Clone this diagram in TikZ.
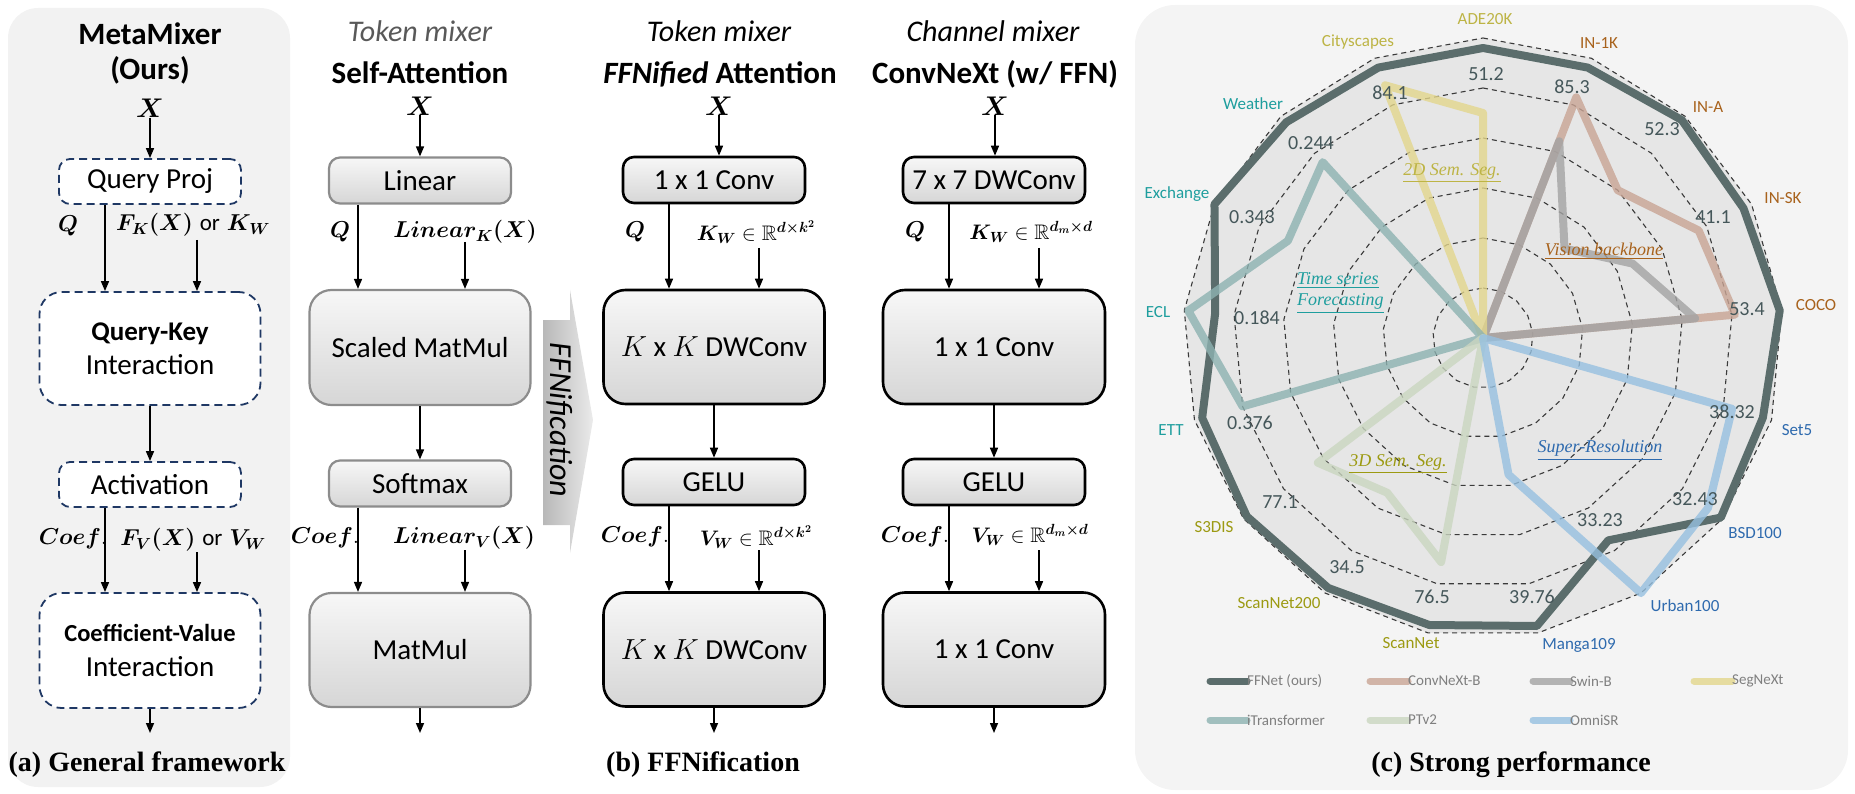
\RequirePackage{fix-cm}
\documentclass[tikz,border=0pt]{standalone}
\usepackage{fontspec}
\usepackage{amsmath,amssymb,bm}
\newfontfamily\carl{Carlito}
\newfontfamily\tms{Liberation Serif}
\usetikzlibrary{arrows.meta}
\newcommand\fsz[1]{\fontsize{#1}{#1}\selectfont}
\definecolor{navy}{HTML}{1F3864}
\definecolor{sagray}{HTML}{8C8C8C}
\definecolor{btop}{HTML}{F7F7F7}
\definecolor{bbot}{HTML}{D6D6D6}
\definecolor{bgA}{HTML}{F2F2F2}
\definecolor{bgC}{HTML}{F4F4F4}
\definecolor{radfill}{HTML}{E6E6E6}
\definecolor{ffnet}{HTML}{5B6D6C}
\definecolor{cnx}{HTML}{C9A494}
\definecolor{swin}{HTML}{A3A3A3}
\definecolor{segn}{HTML}{E3D68C}
\definecolor{itr}{HTML}{8DB2B1}
\definecolor{ptv}{HTML}{CAD6C0}
\definecolor{omni}{HTML}{96C0E0}
\definecolor{tsc}{HTML}{1E9E9E}
\definecolor{src}{HTML}{2E6AAE}
\definecolor{vbc}{HTML}{A8621C}
\definecolor{dtc}{HTML}{9C9A12}
\definecolor{dsc}{HTML}{BDB445}
\definecolor{valc}{HTML}{45575A}
\definecolor{legc}{HTML}{7F7F7F}
\definecolor{gridc}{HTML}{3A3A3A}
\begin{document}
\begin{tikzpicture}[x=1pt,y=-1pt,
  arr/.style={-{Triangle[length=10pt,width=8pt]}, line width=1.5pt},
  sm/.style={minimum width=182pt, minimum height=46pt, rounded corners=11pt},
  bg/.style={minimum width=221pt, minimum height=114pt, rounded corners=22pt},
  txt/.style={font=\carl\fsz{29}},
  dbox/.style={draw=navy, line width=1.8pt, dash pattern=on 8pt off 5pt, fill=white, inner sep=0pt, txt, align=center},
  sbox/.style={draw=sagray, line width=2.2pt, top color=btop, bottom color=bbot, inner sep=0pt, txt},
  kbox/.style={draw=black, line width=2.6pt, top color=btop, bottom color=bbot, inner sep=0pt, txt},
  ttl/.style={font=\carl\bfseries\fsz{31}, inner sep=0pt, anchor=base},
  sttl/.style={font=\carl\itshape\fsz{30}, inner sep=0pt, anchor=base},
  xin/.style={font=\fsz{27}, inner sep=0pt},
  lab/.style={font=\fsz{23}, inner sep=0pt},
  slab/.style={font=\fsz{21}, inner sep=0pt},
  captxt/.style={font=\tms\bfseries\fsz{28}, inner sep=0pt, anchor=base},
  gridl/.style={draw=gridc, line width=1.1pt, dash pattern=on 5pt off 4pt},
  ser/.style={line width=8pt, line join=round},
  tser/.style={ser, opacity=0.8},
  axl/.style={font=\carl\fsz{17}, inner sep=0pt},
  vlab/.style={font=\carl\fsz{20}, text=valc, inner sep=0pt},
  catl/.style={font=\tms\itshape\fsz{18}, inner sep=0pt},
  legl/.style={line width=7pt, line cap=round},
  legt/.style={font=\carl\fsz{15}, text=legc, inner sep=0pt, anchor=west}
]
\useasboundingbox (0,0) rectangle (1855,794);
% panel backgrounds
\fill[bgA, rounded corners=30pt] (8,8) rectangle (290,787);
\fill[bgC, rounded corners=40pt] (1135,5) rectangle (1848,790);

% ================= (a) General framework
\node[ttl] (ta1) at (150,45) {MetaMixer};
\node[ttl] (ta2) at (150,80) {(Ours)};
\node[xin] (xa) at (150,108.5) {$\bm{X}$};
\node[dbox, sm, minimum height=45pt] (qproj) at (150,181.5) {Query Proj};
\node[dbox, bg, minimum height=113pt] (qk) at (150,348.5) {{\bfseries\fsz{27}Query-Key}\\[5pt]Interaction};
\node[dbox, sm, minimum height=45pt] (act) at (150,484.5) {Activation};
\node[dbox, bg, minimum height=115pt] (cv) at (150,650.5) {{\bfseries\fsz{24.5}Coefficient-Value}\\[6pt]Interaction};
\node[lab] (qa) at (68,226) {$\bm{Q}$};
\node[lab] (ka) at (193,225) {$\bm{F_K(X)}$ {\carl or} $\bm{K_W}$};
\node[lab] (ca) at (73,539) {$\bm{Coef}.$};
\node[lab] (va) at (193,540) {$\bm{F_V(X)}$ {\carl or} $\bm{V_W}$};
\coordinate (kas) at (197,240);
\coordinate (vas) at (197,552);
\coordinate (oa) at (150,733);
\draw[arr] (xa.south) -- (qproj.north);
\draw[arr] ([xshift=-45pt]qproj.south) -- ([xshift=-45pt]qk.north);
\draw[arr] (kas) -- (kas |- qk.north);
\draw[arr] (qk.south) -- (act.north);
\draw[arr] ([xshift=-45pt]act.south) -- ([xshift=-45pt]cv.north);
\draw[arr] (vas) -- (vas |- cv.north);
\draw[arr] (cv.south) -- (oa);
\node[captxt] (capa) at (147,771) {(a) General framework};

% ================= Self-Attention
\node[sttl, text=black!65] (tb1) at (420,42) {Token mixer};
\node[ttl] (tb2) at (420,84) {Self-Attention};
\node[xin] (xb) at (420,106) {$\bm{X}$};
\node[sbox, sm] (lin) at (420,180.5) {Linear};
\node[sbox, bg, minimum height=115pt] (smm) at (420,347.5) {Scaled MatMul};
\node[sbox, sm] (soft) at (420,483.5) {Softmax};
\node[sbox, bg] (mm) at (420,650) {MatMul};
\node[lab] (qb) at (340,232) {$\bm{Q}$};
\node[lab] (kb) at (465,232) {$\bm{Linear_K(X)}$};
\node[lab] (cb) at (325,538) {$\bm{Coef}.$};
\node[lab] (vb) at (464,538) {$\bm{Linear_V(X)}$};
\coordinate (kbs) at (465,242);
\coordinate (vbs) at (465,550);
\coordinate (ob) at (420,733);
\draw[arr] (xb.south) -- (lin.north);
\draw[arr] ([xshift=-62pt]lin.south) -- ([xshift=-62pt]smm.north);
\draw[arr] (kbs) -- (kbs |- smm.north);
\draw[arr] (smm.south) -- (soft.north);
\draw[arr] ([xshift=-62pt]soft.south) -- ([xshift=-62pt]mm.north);
\draw[arr] (vbs) -- (vbs |- mm.north);
\draw[arr] (mm.south) -- (ob);

% ================= FFNification arrow
\shade[left color=black!28, right color=black!8] (543,320) -- (570,320) -- (570,290) -- (593,420) -- (570,553) -- (570,525) -- (543,525) -- cycle;
\node[font=\carl\itshape\fsz{32}, rotate=-90, inner sep=0pt] (ffn) at (560,420) {FFNification};

% ================= FFNified Attention
\node[sttl] (tc1) at (719,42) {Token mixer};
\node[ttl] (tc2) at (720,84) {\itshape FFNified\/\upshape{} Attention};
\node[xin] (xc) at (719,106) {$\bm{X}$};
\node[kbox, sm] (c1) at (714,180) {1 x 1 Conv};
\node[kbox, bg] (dw1) at (714,347) {$K$ x $K$ DWConv};
\node[kbox, sm] (gelu1) at (714,482) {GELU};
\node[kbox, bg] (dw2) at (714,649.5) {$K$ x $K$ DWConv};
\node[lab] (qc) at (635,232) {$\bm{Q}$};
\node[slab] (kc) at (756,232) {$\bm{K_W}\in\mathbb{R}^{\bm{d\times k^2}}$};
\node[lab] (cc) at (635,537) {$\bm{Coef}.$};
\node[slab] (vc) at (756,537) {$\bm{V_W}\in\mathbb{R}^{\bm{d\times k^2}}$};
\coordinate (kcs) at (759,248);
\coordinate (vcs) at (759,550);
\coordinate (oc) at (714,733);
\draw[arr] (xc.south) -- (xc.south |- c1.north);
\draw[arr] ([xshift=-45pt]c1.south) -- ([xshift=-45pt]dw1.north);
\draw[arr] (kcs) -- (kcs |- dw1.north);
\draw[arr] (dw1.south) -- (gelu1.north);
\draw[arr] ([xshift=-45pt]gelu1.south) -- ([xshift=-45pt]dw2.north);
\draw[arr] (vcs) -- (vcs |- dw2.north);
\draw[arr] (dw2.south) -- (oc);
\node[captxt] (capb) at (703,771) {(b) FFNification};

% ================= ConvNeXt
\node[sttl] (td1) at (993,42) {Channel mixer};
\node[ttl] (td2) at (995,84) {ConvNeXt (w/ FFN)};
\node[xin] (xd) at (995,106) {$\bm{X}$};
\node[kbox, sm] (c7) at (994,180) {7 x 7 DWConv};
\node[kbox, bg, minimum width=222pt] (pw1) at (994,347) {1 x 1 Conv};
\node[kbox, sm] (gelu2) at (994,482) {GELU};
\node[kbox, bg, minimum width=222pt] (pw2) at (994,649.5) {1 x 1 Conv};
\node[lab] (qd) at (915,232) {$\bm{Q}$};
\node[slab] (kd) at (1031,232) {$\bm{K_W}\in\mathbb{R}^{\bm{d_m\times d}}$};
\node[lab] (cd) at (915,537) {$\bm{Coef}.$};
\node[slab] (vd) at (1030,535) {$\bm{V_W}\in\mathbb{R}^{\bm{d_m\times d}}$};
\coordinate (kds) at (1039,248);
\coordinate (vds) at (1039,550);
\coordinate (od) at (994,733);
\draw[arr] (xd.south) -- (xd.south |- c7.north);
\draw[arr] ([xshift=-45pt]c7.south) -- ([xshift=-45pt]pw1.north);
\draw[arr] (kds) -- (kds |- pw1.north);
\draw[arr] (pw1.south) -- (gelu2.north);
\draw[arr] ([xshift=-45pt]gelu2.south) -- ([xshift=-45pt]pw2.north);
\draw[arr] (vds) -- (vds |- pw2.north);
\draw[arr] (pw2.south) -- (od);

% ================= Radar chart
\begin{scope}[shift={(1483,338)}]
  \coordinate (rc) at (0,0);
  \fill[radfill] (-90:300) \foreach \i in {1,...,16}{ -- ({\i*360/17-90}:300)} -- cycle;
  \foreach \r in {50,100,150,200,250,300}{
    \draw[gridl] (-90:\r) \foreach \i in {1,...,16}{ -- ({\i*360/17-90}:\r)} -- cycle;
  }
  \foreach \i/\r in {0/290,1/290,2/295,3/291,4/298,5/291,6/298,7/238,8/293,9/292,10/294,11/296,12/292,13/269,14/300,15/292,16/290}
    {\coordinate (F\i) at ({\i*360/17-90}:\r);}
  \foreach \i/\r in {1/258,2/200,3/241,4/253} {\coordinate (CN\i) at ({\i*360/17-90}:\r);}
  \foreach \i/\r in {1/211,2/121,3/167,4/213} {\coordinate (SW\i) at ({\i*360/17-90}:\r);}
  \foreach \i/\r in {0/225,16/271} {\coordinate (SG\i) at ({\i*360/17-90}:\r);}
  \foreach \i/\r in {12/250,13/296,14/218,15/238} {\coordinate (IT\i) at ({\i*360/17-90}:\r);}
  \foreach \i/\r in {9/228,10/182,11/207} {\coordinate (PT\i) at ({\i*360/17-90}:\r);}
  \foreach \i/\r in {5/259,6/282,7/300,8/139} {\coordinate (OM\i) at ({\i*360/17-90}:\r);}
  \draw[ser, ffnet] (F0) \foreach \i in {1,...,16}{ -- (F\i)} -- cycle;
  \draw[tser, cnx] (rc) -- (CN1) -- (CN2) -- (CN3) -- (CN4) -- cycle;
  \draw[tser, swin] (rc) -- (SW1) -- (SW2) -- (SW3) -- (SW4) -- cycle;
  \draw[tser, segn] (rc) -- (SG16) -- (SG0) -- cycle;
  \draw[tser, itr] (rc) -- (IT12) -- (IT13) -- (IT14) -- (IT15) -- cycle;
  \draw[tser, ptv] (rc) -- (PT9) -- (PT10) -- (PT11) -- cycle;
  \draw[tser, omni] (rc) -- (OM5) -- (OM6) -- (OM7) -- (OM8) -- cycle;
\end{scope}

% value labels
\node[vlab] (v1) at (1486,74) {51.2};
\node[vlab] (v2) at (1572,87) {85.3};
\node[vlab] (v3) at (1662,129) {52.3};
\node[vlab] (v4) at (1713,217) {41.1};
\node[vlab] (v5) at (1747,309) {53.4};
\node[vlab] (v6) at (1732,412) {38.32};
\node[vlab] (v7) at (1695,499) {32.43};
\node[vlab] (v8) at (1600,520) {33.23};
\node[vlab] (v9) at (1532,597) {39.76};
\node[vlab] (v10) at (1432,597) {76.5};
\node[vlab] (v11) at (1347,567) {34.5};
\node[vlab] (v12) at (1280,502) {77.1};
\node[vlab] (v13) at (1250,423) {0.376};
\node[vlab] (v14) at (1257,318) {0.184};
\node[vlab] (v15) at (1252,217) {0.343};
\node[vlab] (v16) at (1311,143) {0.244};
\node[vlab] (v17) at (1390,93) {84.1};

% axis labels
\node[axl, text=dsc] (l0) at (1485,19) {ADE20K};
\node[axl, text=vbc] (l1) at (1599,43) {IN-1K};
\node[axl, text=vbc] (l2) at (1708,107) {IN-A};
\node[axl, text=vbc] (l3) at (1783,198) {IN-SK};
\node[axl, text=vbc] (l4) at (1816,305) {COCO};
\node[axl, text=src] (l5) at (1797,430) {Set5};
\node[axl, text=src] (l6) at (1755,533) {BSD100};
\node[axl, text=src] (l7) at (1685,606) {Urban100};
\node[axl, text=src] (l8) at (1579,645) {Manga109};
\node[axl, text=dtc] (l9) at (1411,643) {ScanNet};
\node[axl, text=dtc] (l10) at (1279,603) {ScanNet200};
\node[axl, text=dtc] (l11) at (1214,527) {S3DIS};
\node[axl, text=tsc] (l12) at (1171,430) {ETT};
\node[axl, text=tsc] (l13) at (1158,312) {ECL};
\node[axl, text=tsc] (l14) at (1177,194) {Exchange};
\node[axl, text=tsc] (l15) at (1253,104) {Weather};
\node[axl, text=dsc] (l16) at (1358,42) {Cityscapes};

% category labels
\node[catl, text=dsc] (k2d) at (1452,173) {\underline{2D Sem. Seg.}};
\node[catl, text=vbc] (kvb) at (1604,251) {\underline{Vision backbone}};
\node[catl, text=tsc, align=left, anchor=west] (kts) at (1297,293) {\underline{Time series}\\[3pt]\underline{Forecasting}};
\node[catl, text=dtc] (k3d) at (1398,464) {\underline{3D Sem. Seg.}};
\node[catl, text=src] (ksr) at (1600,450) {\underline{Super-Resolution}};

% legend
\coordinate (g1a) at (1210,681); \coordinate (g1b) at (1247,681);
\coordinate (g2a) at (1370,681); \coordinate (g2b) at (1408,681);
\coordinate (g3a) at (1533,681); \coordinate (g3b) at (1570,681);
\coordinate (g4a) at (1694,681); \coordinate (g4b) at (1732,681);
\coordinate (g5a) at (1210,720); \coordinate (g5b) at (1247,720);
\coordinate (g6a) at (1370,720); \coordinate (g6b) at (1408,720);
\coordinate (g7a) at (1533,720); \coordinate (g7b) at (1570,720);
\draw[legl, ffnet] (g1a) -- (g1b); \node[legt] (t1) at (g1b) {FFNet (ours)};
\draw[legl, cnx, opacity=0.8] (g2a) -- (g2b); \node[legt] (t2) at (g2b) {ConvNeXt-B};
\draw[legl, swin, opacity=0.8] (g3a) -- (g3b); \node[legt] (t3) at (g3b) {Swin-B};
\draw[legl, segn, opacity=0.8] (g4a) -- (g4b); \node[legt] (t4) at (g4b) {SegNeXt};
\draw[legl, itr, opacity=0.8] (g5a) -- (g5b); \node[legt] (t5) at (g5b) {iTransformer};
\draw[legl, ptv, opacity=0.8] (g6a) -- (g6b); \node[legt] (t6) at (g6b) {PTv2};
\draw[legl, omni, opacity=0.8] (g7a) -- (g7b); \node[legt] (t7) at (g7b) {OmniSR};

\node[captxt] (capc) at (1511,771) {(c) Strong performance};
\end{tikzpicture}
\end{document}
